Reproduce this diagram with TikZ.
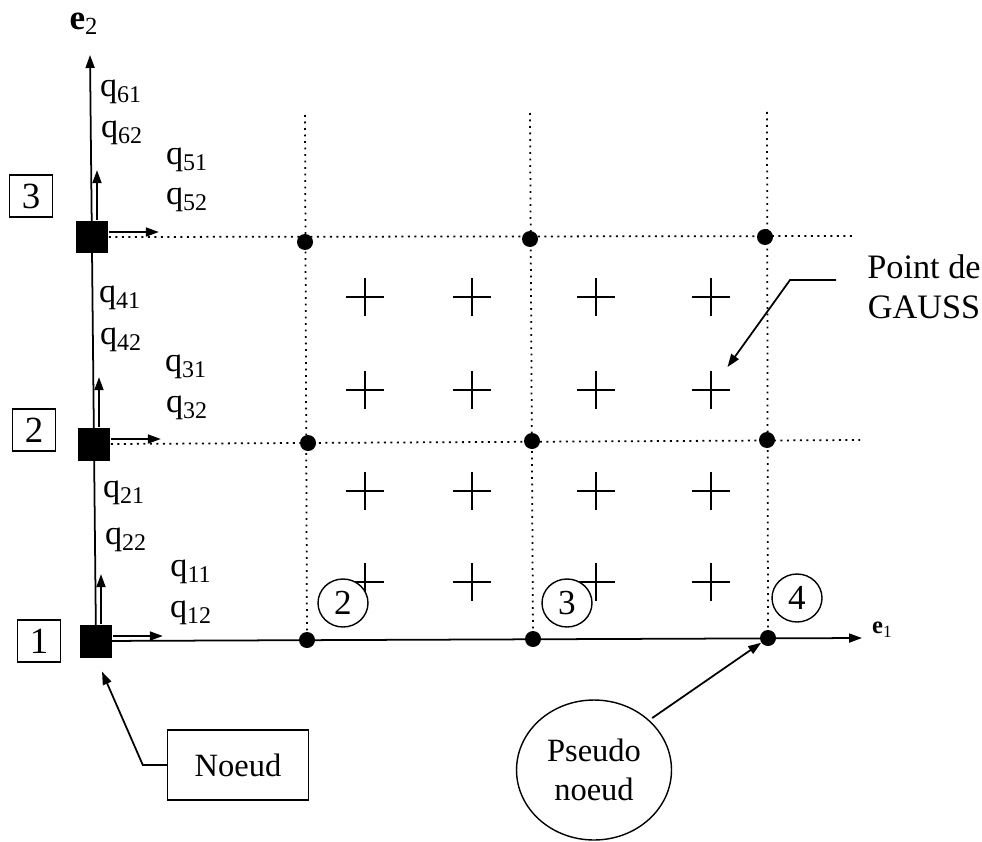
\documentclass[tikz,border=0pt]{standalone}
\usepackage{fontspec}
\setmainfont{Liberation Serif}
\usetikzlibrary{arrows.meta,shapes.geometric,shapes.misc,positioning}
\newcommand{\qlab}[1]{q\textsubscript{#1}}

\begin{document}
\begin{tikzpicture}[x=0.02cm,y=-0.02cm,
  font=\fontsize{18.5}{22}\selectfont,
  noeud/.style={rectangle,fill=black,minimum size=0.66cm,inner sep=0pt},
  pnoeud/.style={circle,fill=black,minimum size=0.32cm,inner sep=0pt},
  numbox/.style={rectangle,draw,line width=0.8pt,minimum width=0.86cm,minimum height=0.84cm,inner sep=0pt,font=\fontsize{21}{24}\selectfont},
  numcirc/.style={ellipse,draw,fill=white,line width=0.8pt,minimum width=1.0cm,minimum height=0.96cm,inner sep=0pt,font=\fontsize{20}{24}\selectfont},
  gauss/.style={cross out,draw,rotate=45,line width=0.7pt,minimum size=0.5cm,inner sep=0pt},
  qlabel/.style={font=\fontsize{19.5}{23}\selectfont,inner sep=0pt},
  grille/.style={line width=1pt,dash pattern=on 1.1pt off 2.6pt},
  arr/.style={-{Triangle[length=0.26cm,width=0.18cm]},line width=1pt}
]
  \useasboundingbox (0,0) rectangle (982,841);

  \coordinate (e2tip) at (90,55);
  \coordinate (e1tip) at (862,638);
  \coordinate (v1) at (305,115);
  \coordinate (v2) at (530,113);
  \coordinate (v3) at (767,112);
  \coordinate (h3) at (855,236);
  \coordinate (h2) at (860,440);

  \node[noeud]  (n1) at (96,641) {};
  \node[noeud]  (n2) at (94,444) {};
  \node[noeud]  (n3) at (92,237) {};

  \node[pnoeud] (p11) at (307,640) {};
  \node[pnoeud] (p12) at (533,639) {};
  \node[pnoeud] (p13) at (768,638) {};
  \node[pnoeud] (p21) at (308,443) {};
  \node[pnoeud] (p22) at (532,441) {};
  \node[pnoeud] (p23) at (767,440) {};
  \node[pnoeud] (p31) at (305,242) {};
  \node[pnoeud] (p32) at (530,239) {};
  \node[pnoeud] (p33) at (765,237) {};

  \draw[grille] (v1)--(p11);
  \draw[grille] (v2)--(p12);
  \draw[grille] (v3)--(p13);
  \draw[grille] (n3.east)--(h3);
  \draw[grille] (n2.east)--(h2);

  \draw[arr] (n1.center)--(e2tip);
  \draw[arr] (n1.center)--(e1tip);
  \node[noeud]  at (n1) {};
  \node[noeud]  at (n2) {};
  \node[noeud]  at (n3) {};

  \foreach \n in {1,2,3}{
    \draw[arr] ([xshift=0.1cm]n\n.north)--++(0,-50);
    \draw[arr] ([yshift=0.1cm]n\n.east)--++(50,0);
  }

  \node[font=\fontsize{20}{24}\selectfont] (le2) at (84,24) {\textbf{e}\textsubscript{2}};
  \node[font=\fontsize{14}{16}\selectfont,anchor=west] (le1) at (866,630) {\textbf{e}\textsubscript{1}};

  \node[numbox] (b3) at (31,196) {3};
  \node[numbox] (b2) at (34,430) {2};
  \node[numbox] (b1) at (39,641) {1};

  \node[qlabel] (q61) at (121,92)  {\qlab{61}};
  \node[qlabel] (q62) at (122,133) {\qlab{62}};
  \node[qlabel] (q51) at (187,160) {\qlab{51}};
  \node[qlabel] (q52) at (187,200) {\qlab{52}};
  \node[qlabel] (q41) at (120,298) {\qlab{41}};
  \node[qlabel] (q42) at (121,340) {\qlab{42}};
  \node[qlabel] (q31) at (186,367) {\qlab{31}};
  \node[qlabel] (q32) at (187,408) {\qlab{32}};
  \node[qlabel] (q21) at (124,493) {\qlab{21}};
  \node[qlabel] (q22) at (126,540) {\qlab{22}};
  \node[qlabel] (q11) at (191,572) {\qlab{11}};
  \node[qlabel] (q12) at (191,613) {\qlab{12}};

  \foreach \y [count=\j] in {297,390,491,582}
    \foreach \x [count=\i] in {365,472,596,711}
      \node[gauss] (g\j\i) at (\x,\y) {};

  \node[numcirc] (c2) at (343,603) {2};
  \node[numcirc] (c3) at (567,603) {3};
  \node[numcirc] (c4) at (797,598) {4};

  \node[align=center,font=\fontsize{19.5}{23}\selectfont] (lgauss) at (924,287) {Point de\\GAUSS};
  \coordinate (kgauss) at (790,280);
  \draw[arr,shorten >=0.3cm] ([xshift=-0.5cm]lgauss.west |- kgauss)--(kgauss)--(g24);

  \node[rectangle,draw,line width=0.8pt,minimum width=2.82cm,minimum height=1.4cm] (lnoeud) at (238,765) {Noeud};
  \draw[arr,shorten >=0.3cm] (lnoeud.west)--++(-24,0)--(n1.south);

  \node[ellipse,draw,line width=0.8pt,minimum width=3.1cm,minimum height=2.8cm,align=center,inner sep=0pt] (lpseudo) at (594,770) {Pseudo\\noeud};
  \draw[arr,shorten <=2pt] (lpseudo.north east)--(p13);
\end{tikzpicture}
\end{document}
